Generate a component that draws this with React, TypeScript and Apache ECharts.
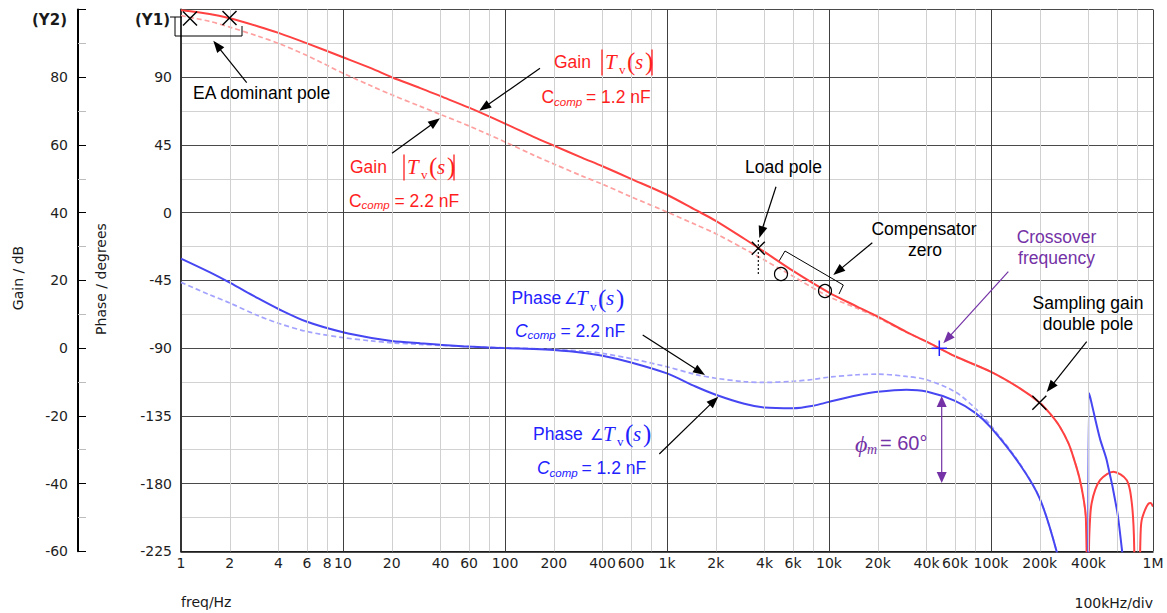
import React, { useEffect, useRef } from 'react';
import * as echarts from 'echarts';

// ---------- data ----------
const tickValues = [1, 2, 4, 6, 8, 10, 20, 40, 60, 100, 200, 400, 600, 1000, 2000, 4000, 6000, 10000, 20000, 40000, 60000, 100000, 200000, 400000, 1000000];
const tickLabels = ['1', '2', '4', '6', '8', '10', '20', '40', '60', '100', '200', '400', '600', '1k', '2k', '4k', '6k', '10k', '20k', '40k', '60k', '100k', '200k', '400k', '1M'];
const decadeLines = [10, 100, 1000, 10000, 100000, 1000000];
const minorLines = [2, 4, 6, 8, 20, 40, 60, 80, 200, 400, 600, 800, 2000, 4000, 6000, 8000, 20000, 40000, 60000, 80000, 200000, 400000, 600000, 800000];

const gainFreq = [1, 1.5, 2, 3, 4, 6, 10, 15, 20, 30,
  40, 60, 100, 150, 200, 300, 400, 600, 1000, 1500,
  2000, 3000, 4000, 6000, 10000, 15000, 20000, 30000, 40000, 60000,
  100000, 150000, 200000, 231000, 266000, 300000, 322000, 350000, 371000, 385000,
  398000, 403000, 410000, 418000, 440000, 471000, 520000, 569000, 630000, 689000,
  720000, 740000, 752000, 762000, 775000, 800000, 825000, 838000, 850000, 893000,
  935000, 965000, 1000000];
const gain12nF = [99.8, 98.7, 97.4, 95.0, 93.1, 90.0, 85.9, 82.6, 80.0, 76.8,
  74.4, 71.0, 66.3, 62.4, 59.8, 56.2, 53.7, 50.0, 45.3, 40.8,
  37.6, 32.3, 28.4, 22.8, 16.4, 12.2, 9.3, 4.8, 1.9, -2.4,
  -7.0, -11.8, -16.1, -19.3, -23.2, -28.0, -32.1, -38.0, -43.9, -50.0,
  -90, -58, -49.5, -45.8, -41.8, -39.0, -37.2, -36.5, -37.3, -39.0,
  -41.8, -45.8, -49.5, -55, -70, -90, -70, -55, -51, -47.8,
  -46.0, -45.7, -46.8];
const gain22nF = [98.2, 96.5, 94.8, 92.1, 90.0, 86.4, 81.2, 77.4, 74.8, 71.4,
  69.0, 65.6, 60.9, 57.0, 54.4, 50.8, 48.4, 44.7, 40.2, 36.5,
  33.8, 29.3, 26.0, 21.2, 15.2, 11.7, 9.0, 4.7, 1.9, -2.4,
  -7.0, -11.8, -16.1, -19.3, -23.2, -28.0, -32.1, -38.0, -43.9, -50.0,
  null, null, null, null, null, null, null, null, null, null,
  null, null, null, null, null, null, null, null, null, null,
  null, null, null];

const phaseFreq = [1, 1.5, 2, 3, 4, 6, 10, 15, 20, 30,
  40, 60, 100, 150, 200, 300, 400, 600, 1000, 1500,
  2000, 3000, 4000, 6000, 8000, 10000, 15000, 20000, 30000, 40000,
  60000, 80000, 100000, 150000, 200000, 254000, 300000, 350000, 398000, 404000,
  420000, 471000, 518000, 600000, 645000, 690000];
const phase12nF = [-30.5, -39.5, -46.5, -57.0, -64.0, -72.5, -79.5, -83.3, -85.2, -86.8,
  -87.8, -89.0, -90.0, -90.6, -91.3, -93.0, -95.0, -99.5, -106.8, -115.5,
  -121.0, -127.0, -129.5, -130.0, -128.3, -125.7, -121.3, -119.0, -117.6, -118.8,
  -125.0, -133.0, -142.8, -167.0, -190.0, -225.0, -260.0, null, -280, -120,
  -127.7, -150.3, -164.5, -198.0, -225.0, -250.0];
const phase22nF = [-46.3, -54.5, -60.0, -68.5, -73.5, -79.0, -83.0, -85.2, -86.5, -87.5,
  -88.2, -89.0, -89.8, -90.3, -90.8, -92.0, -93.5, -97.0, -102.4, -107.5,
  -110.0, -112.3, -112.8, -112.0, -110.8, -109.3, -107.7, -107.3, -108.8, -111.0,
  -119.0, -130.0, -141.5, -166.5, -190.0, -225.0, -260.0, null, null, null,
  null, null, null, null, null, null];

const phaseTicks = { min: -225, max: 135, step: 45 };
const gainTicks = { min: -60, max: 100, step: 20 };

// ---------- styling helpers ----------
const SANS = '"Liberation Sans", Arial, sans-serif';
const SERIF = '"Liberation Serif", "Times New Roman", serif';
const TICKF = '"DejaVu Sans", Verdana, sans-serif';
const RED_T = '#FF1E1E';
const BLUE_T = '#2222FF';
const PURPLE = '#7432A6';
const BLACK = '#000';

const zip = (xs: number[], ys: (number | null)[]) => xs.map((x, i) => [x, ys[i]]);

function txt(x: number, y: number, text: string, font: string, fill: string, align = 'left', rotation = 0): any {
  return {
    type: 'text', x, y, rotation, z: 100, silent: true,
    style: { text, font, fill, align, verticalAlign: 'middle', textAlign: align, textVerticalAlign: 'middle' },
  };
}
function seg(x1: number, y1: number, x2: number, y2: number, stroke: string, lineWidth = 1.2, lineDash?: number[]): any {
  return { type: 'line', z: 100, silent: true, shape: { x1, y1, x2, y2 }, style: { stroke, lineWidth, lineDash } };
}
function head(x1: number, y1: number, x2: number, y2: number, fill: string, len = 12, hw = 4.5): any {
  const dx = x2 - x1, dy = y2 - y1, L = Math.hypot(dx, dy), ux = dx / L, uy = dy / L;
  const bx = x2 - ux * len, by = y2 - uy * len;
  return { type: 'polygon', z: 100, silent: true, shape: { points: [[x2, y2], [bx - uy * hw, by + ux * hw], [bx + uy * hw, by - ux * hw]] }, style: { fill } };
}
function arrow(x1: number, y1: number, x2: number, y2: number, color: string, lw = 1.2): any[] {
  const dx = x2 - x1, dy = y2 - y1, L = Math.hypot(dx, dy);
  const bx = x2 - (dx / L) * 10, by = y2 - (dy / L) * 10;
  return [seg(x1, y1, bx, by, color, lw), head(x1, y1, x2, y2, color)];
}
function cross(cx: number, cy: number, r: number, color: string, lw = 1.4): any[] {
  return [seg(cx - r, cy - r, cx + r, cy + r, color, lw), seg(cx - r, cy + r, cx + r, cy - r, color, lw)];
}
function tv(tx: number, cy: number, color: string, bars: boolean): any[] {
  const out: any[] = [
    txt(tx, cy, 'T', `italic 21px ${SERIF}`, color),
    txt(tx + 14, cy + 8, 'v', `13px ${SERIF}`, color),
    txt(tx + 22, cy, '(', `25px ${SERIF}`, color),
    txt(tx + 30, cy, 's', `italic 21px ${SERIF}`, color),
    txt(tx + 40, cy, ')', `25px ${SERIF}`, color),
  ];
  if (bars) {
    out.push(seg(tx - 3, cy - 12, tx - 3, cy + 14, color, 1.3));
    out.push(seg(tx + 47, cy - 12, tx + 47, cy + 14, color, 1.3));
  }
  return out;
}
function ccomp(x: number, cy: number, value: string, color: string, italicC: boolean, subW: number): any[] {
  return [
    txt(x, cy, 'C', `${italicC ? 'italic ' : ''}17.5px ${SANS}`, color),
    txt(x + 12.5, cy + 4.5, 'comp', `italic 11.5px ${SANS}`, color),
    txt(x + 12.5 + subW, cy, '= ' + value, `17.5px ${SANS}`, color),
  ];
}

function buildGraphics(): any[] {
  const A = `17.5px ${SANS}`;
  const g: any[] = [];
  // axis titles
  g.push(txt(49.5, 20, '(Y2)', `bold 15px ${TICKF}`, '#1a1a1a', 'center'));
  g.push(txt(152.5, 20, '(Y1)', `bold 15px ${TICKF}`, '#1a1a1a', 'center'));
  g.push(txt(18, 278, 'Gain / dB', `14px ${TICKF}`, '#1a1a1a', 'center', Math.PI / 2));
  g.push(txt(101, 279, 'Phase / degrees', `14px ${TICKF}`, '#1a1a1a', 'center', Math.PI / 2));
  g.push(txt(181, 602, 'freq/Hz', `14px ${TICKF}`, '#1a1a1a', 'left'));
  g.push(txt(1153, 603, '100kHz/div', `14px ${TICKF}`, '#1a1a1a', 'right'));

  // EA dominant pole
  g.push({ type: 'polyline', z: 100, silent: true, shape: { points: [[170, 17], [182, 17]] }, style: { stroke: BLACK, lineWidth: 1, fill: 'none' } });
  g.push({ type: 'polyline', z: 100, silent: true, shape: { points: [[175, 17], [175, 36], [242, 36], [242, 26]] }, style: { stroke: BLACK, lineWidth: 1, fill: 'none' } });
  g.push(...cross(190, 18.5, 7, BLACK), ...cross(229.5, 18, 7, BLACK));
  g.push(...arrow(246.7, 82.7, 213.3, 40.7, BLACK));
  g.push(txt(193, 93, 'EA dominant pole', A, BLACK));

  // Gain labels (red)
  g.push(txt(554, 61.5, 'Gain', A, RED_T));
  g.push(...tv(605, 61.5, RED_T, true));
  g.push(...ccomp(541.5, 97, '1.2 nF', RED_T, false, 32));
  g.push(...arrow(540, 68.3, 479.3, 110.7, BLACK));

  g.push(txt(350, 166.5, 'Gain', A, RED_T));
  g.push(...tv(407, 166.5, RED_T, true));
  g.push(...ccomp(349, 200.5, '2.2 nF', RED_T, false, 33));
  g.push(...arrow(392, 153.3, 440, 118.3, BLACK));

  // Load pole
  g.push(txt(745, 166.7, 'Load pole', A, BLACK));
  g.push(...arrow(776, 186.7, 759.3, 238, BLACK));
  g.push(seg(758.3, 240, 758.3, 274, BLACK, 1.1, [2, 2]));
  g.push(...cross(758.3, 248.3, 6.5, BLACK));

  // Compensator zero
  g.push({ type: 'circle', z: 100, silent: true, shape: { cx: 781, cy: 274, r: 6.5 }, style: { fill: 'none', stroke: BLACK, lineWidth: 1.2 } });
  g.push({ type: 'circle', z: 100, silent: true, shape: { cx: 825, cy: 291, r: 6.5 }, style: { fill: 'none', stroke: BLACK, lineWidth: 1.2 } });
  g.push({ type: 'polyline', z: 100, silent: true, shape: { points: [[779.3, 260.7], [785, 251], [843.3, 285], [839, 294]] }, style: { stroke: BLACK, lineWidth: 1, fill: 'none' } });
  g.push(txt(924, 229, 'Compensator', A, BLACK, 'center'));
  g.push(txt(925, 250, 'zero', A, BLACK, 'center'));
  g.push(...arrow(872.3, 242.7, 833.3, 275, BLACK));

  // Crossover
  g.push(txt(1056.5, 237.3, 'Crossover', A, PURPLE, 'center'));
  g.push(txt(1056.5, 257.8, 'frequency', A, PURPLE, 'center'));
  g.push(...arrow(1008.3, 271.7, 943.3, 343.3, PURPLE));
  g.push(seg(931.5, 348.3, 947, 348.3, '#2020FF', 1.5), seg(939.3, 340.5, 939.3, 356, '#2020FF', 1.5));

  // Sampling gain double pole
  g.push(txt(1088, 303.3, 'Sampling gain', A, BLACK, 'center'));
  g.push(txt(1088, 324.3, 'double pole', A, BLACK, 'center'));
  g.push(...arrow(1086.7, 341.7, 1046.7, 392, BLACK));
  g.push(...cross(1039.3, 402.7, 7, BLACK));

  // Phase labels (blue)
  g.push(txt(511.5, 298.3, 'Phase', A, BLUE_T));
  g.push(txt(564, 299, '\u2220', `15px ${SERIF}`, BLUE_T));
  g.push(...tv(576, 298.3, BLUE_T, false));
  g.push(...ccomp(515, 330.5, '2.2 nF', BLUE_T, true, 33));
  g.push(...arrow(642.7, 335, 705, 375, BLACK));

  g.push(txt(533, 433.5, 'Phase', A, BLUE_T));
  g.push(txt(590, 434.5, '\u2220', `15px ${SERIF}`, BLUE_T));
  g.push(...tv(603, 433.5, BLUE_T, false));
  g.push(...ccomp(537, 468, '1.2 nF', BLUE_T, true, 32));
  g.push(...arrow(659.3, 454, 718.3, 396.7, BLACK));

  // phase margin
  g.push(txt(855, 443.5, '\u03D5', `italic 24px ${SERIF}`, PURPLE));
  g.push(txt(867, 449.5, 'm', `italic 14px ${SERIF}`, PURPLE));
  g.push(txt(880, 443.3, '= 60°', `20px ${SANS}`, PURPLE));
  g.push(seg(941.7, 406, 941.7, 472, PURPLE, 1.2));
  g.push(head(941.7, 440, 941.7, 396, PURPLE, 11, 5));
  g.push(head(941.7, 440, 941.7, 483, PURPLE, 11, 5));
  return g;
}

export default function App() {
  const ref = useRef<HTMLDivElement>(null);
  useEffect(() => {
    if (!ref.current) return;
    const chart = echarts.init(ref.current, null, { renderer: 'svg' });
    const labelFont = { fontFamily: TICKF, fontSize: 14, color: '#1e1e1e' };
    const curve = { type: 'line', xAxisIndex: 0, symbol: 'none', smooth: 0.3 };
    const option: any = {
      animation: false,
      backgroundColor: '#ffffff',
      grid: { left: 181, right: 14, top: 9.5, bottom: 61.7, show: false },
      xAxis: {
        type: 'log', logBase: 10, min: 1, max: 1000000,
        axisLine: { show: true, onZero: false, lineStyle: { color: '#111', width: 1.5 } },
        axisTick: { show: false }, axisLabel: { show: false }, splitLine: { show: false },
      },
      yAxis: [
        {
          type: 'value', min: phaseTicks.min, max: phaseTicks.max, interval: phaseTicks.step, position: 'left',
          axisLine: { show: true, lineStyle: { color: '#333', width: 2 } },
          axisTick: { show: false },
          axisLabel: { ...labelFont, margin: 9, formatter: (v: number) => (v === phaseTicks.max ? '' : String(v)) },
          splitLine: { show: true, lineStyle: { color: '#4a4a4a', width: 1 } },
          minorTick: { show: false, splitNumber: 2 },
          minorSplitLine: { show: true, lineStyle: { color: '#d2d2d2', width: 1 } },
        },
        {
          type: 'value', min: gainTicks.min, max: gainTicks.max, interval: gainTicks.step, position: 'left', offset: 103,
          axisLine: { show: true, lineStyle: { color: '#000', width: 2 } },
          axisTick: { show: true, inside: true, length: 8, lineStyle: { color: '#000', width: 1 } },
          minorTick: { show: true, splitNumber: 2, length: 8, lineStyle: { color: '#bdbdbd', width: 1 } },
          axisLabel: { ...labelFont, margin: 10, formatter: (v: number) => (v === gainTicks.max ? '' : String(v)) },
          splitLine: { show: false },
        },
      ],
      series: [
        {
          type: 'line', xAxisIndex: 0, yAxisIndex: 0, z: 1, silent: true, symbol: 'none',
          data: [[1, -1000]], lineStyle: { opacity: 0 },
          markLine: {
            silent: true, symbol: ['none', 'none'], animation: false, label: { show: false },
            data: [
              ...minorLines.map((v) => ({ xAxis: v, lineStyle: { color: '#d0d0d0', width: 1, type: 'solid' } })),
              ...decadeLines.map((v) => ({ xAxis: v, lineStyle: { color: '#404040', width: 1, type: 'solid' } })),
            ],
          },
        },
        {
          type: 'custom', xAxisIndex: 0, yAxisIndex: 0, z: 2, silent: true, clip: false,
          data: tickValues.map((v, i) => [v, i]),
          renderItem: (_params: any, api: any) => {
            const i = api.value(1);
            const p = api.coord([api.value(0), phaseTicks.min]);
            return {
              type: 'text', x: p[0], y: p[1] + 12,
              style: {
                text: tickLabels[i], font: `14px ${TICKF}`, fill: '#1e1e1e',
                align: 'center', verticalAlign: 'middle', textAlign: 'center', textVerticalAlign: 'middle',
              },
            };
          },
        },
        {
          ...curve, name: 'Gain 2.2nF', yAxisIndex: 1, z: 3,
          data: zip(gainFreq, gain22nF), lineStyle: { color: '#FFA0A0', width: 1.7, type: [5, 3] },
        },
        {
          ...curve, name: 'Phase 2.2nF', yAxisIndex: 0, z: 3,
          data: zip(phaseFreq, phase22nF), lineStyle: { color: '#A3A3FF', width: 1.7, type: [5, 3] },
        },
        {
          ...curve, name: 'Gain 1.2nF', yAxisIndex: 1, z: 4,
          data: zip(gainFreq, gain12nF), lineStyle: { color: '#FF4141', width: 2 },
        },
        {
          ...curve, name: 'Phase 1.2nF', yAxisIndex: 0, z: 4,
          data: zip(phaseFreq, phase12nF), lineStyle: { color: '#4646F2', width: 2 },
        },
      ],
      graphic: { elements: buildGraphics() },
    };
    chart.setOption(option);
    return () => chart.dispose();
  }, []);
  return <div ref={ref} style={{ position: 'fixed', left: 0, top: 0, width: 1167, height: 613, background: '#fff' }} />;
}
